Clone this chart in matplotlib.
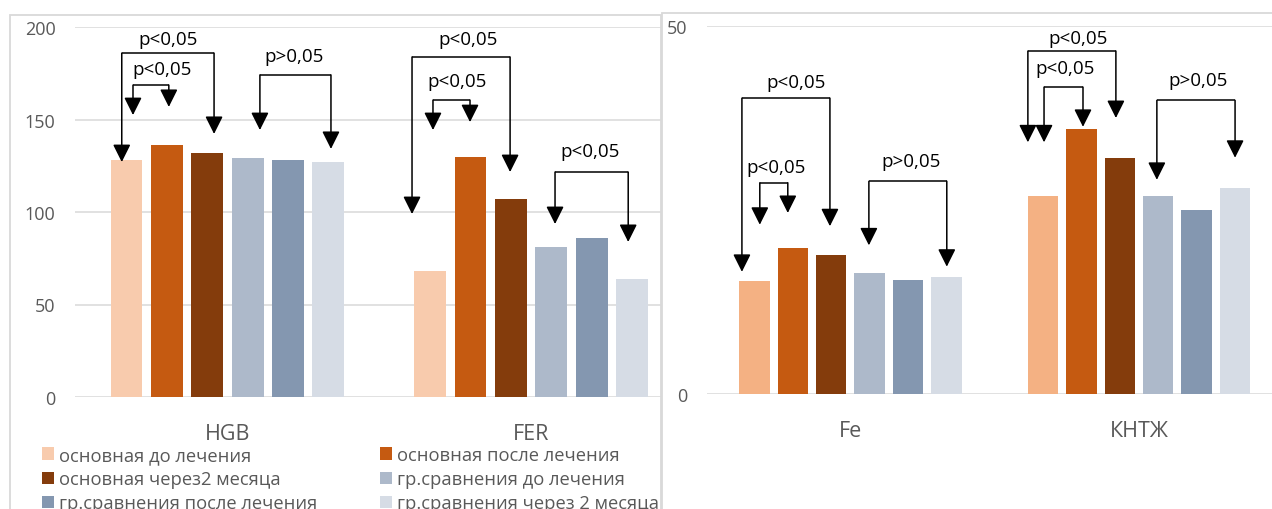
import numpy as np
import matplotlib
matplotlib.use("Agg")
import matplotlib.pyplot as plt
from matplotlib.patches import Rectangle

plt.rcParams['font.family'] = ['Open Sans', 'DejaVu Sans']

W, H = 1272, 510

series_names = ['основная до лечения', 'основная после лечения', 'основная через2 месяца',
                'гр.сравнения до лечения', 'гр.сравнения после лечения', 'гр.сравнения через 2 месяца']

cats_left = ['HGB', 'FER']
left_osn_do = [128, 68]
left_osn_posle = [136, 130]
left_osn_2m = [132, 107]
left_sr_do = [129, 81]
left_sr_posle = [128, 86]
left_sr_2m = [127, 64]

cats_right = ['Fe', 'КНТЖ']
right_osn_do = [15.3, 26.9]
right_osn_posle = [19.9, 36.0]
right_osn_2m = [18.9, 32.0]
right_sr_do = [16.5, 26.9]
right_sr_posle = [15.5, 25.0]
right_sr_2m = [15.9, 28.0]

colors_left = ['#F8CBAD', '#C55A11', '#843C0C', '#ADB9CA', '#8497B0', '#D6DCE5']
colors_right = ['#F4B183', '#C55A11', '#843C0C', '#ADB9CA', '#8497B0', '#D6DCE5']

# significance brackets: left leg x, right leg x, top y, left tip y, right tip y, text x, text y, label
brackets_left = [
    (-0.348, -0.044, 185.9, 127.0, 142.2, -0.195, 193.5, 'p<0,05'),
    (-0.311, -0.193, 168.6, 152.4, 156.8, -0.216, 177.3, 'p<0,05'),
    (0.107, 0.341, 174.1, 144.3, 134.1, 0.219, 184.3, 'p>0,05'),
    (0.608, 0.931, 183.8, 98.9, 121.6, 0.792, 193.5, 'p<0,05'),
    (0.677, 0.799, 160.5, 144.3, 148.6, 0.756, 170.8, 'p<0,05'),
    (1.079, 1.320, 121.6, 93.5, 83.8, 1.194, 133.0, 'p<0,05'),
]
brackets_right = [
    (-0.376, -0.071, 40.2, 16.6, 22.8, -0.189, 42.4, 'p<0,05'),
    (-0.314, -0.217, 28.7, 23.0, 24.6, -0.258, 30.8, 'p<0,05'),
    (0.064, 0.334, 28.9, 20.2, 17.3, 0.210, 31.7, 'p>0,05'),
    (0.615, 0.920, 46.6, 34.2, 37.5, 0.789, 48.4, 'p<0,05'),
    (0.671, 0.806, 41.7, 34.2, 36.3, 0.744, 44.3, 'p<0,05'),
    (1.062, 1.333, 39.9, 29.1, 32.1, 1.205, 42.7, 'p>0,05'),
]

GRAY = '#595959'
GRID = '#D9D9D9'
step, width = 0.133, 0.105


def draw_panel(ax, cats, values, colors, ymax, yticks, brackets):
    x = np.arange(len(cats))
    bars = []
    for i, (vals, c) in enumerate(zip(values, colors)):
        b = ax.bar(x + (i - 2.5) * step, vals, width, color=c, label=series_names[i], zorder=2)
        bars.append(b)
    ax.set_ylim(0, ymax)
    ax.set_yticks(yticks)
    ax.set_xticks(x)
    ax.set_xticklabels(cats, fontsize=15.5, color=GRAY)
    ax.tick_params(axis='y', length=0, pad=14, labelsize=13, labelcolor=GRAY)
    ax.tick_params(axis='x', length=0, pad=19)
    ax.grid(axis='y', color=GRID, lw=1.1, zorder=0)
    for s in ax.spines.values():
        s.set_visible(False)
    for xl, xr, top, tl, tr, tx, ty, lab in brackets:
        ax.plot([xl, xr], [top, top], color='black', lw=1.1, zorder=3, solid_capstyle='butt')
        for xx, tip in ((xl, tl), (xr, tr)):
            ax.annotate('', xy=(xx, tip), xytext=(xx, top),
                        arrowprops=dict(arrowstyle='-|>,head_length=0.9,head_width=0.45',
                                        mutation_scale=12, lw=1.1, color='black',
                                        shrinkA=0, shrinkB=0), zorder=3)
        ax.text(tx, ty, lab, ha='center', va='center', fontsize=13.5, color='black', zorder=4)
    return bars


fig = plt.figure(figsize=(W / 100, H / 100), dpi=100)

# chart frames
fig.add_artist(Rectangle((10 / W, -0.1), 651 / W, (H - 16) / H + 0.1, transform=fig.transFigure,
                         fill=False, edgecolor=GRID, lw=1.3))
fig.add_artist(Rectangle((662 / W, -0.1), 0.5, (H - 14) / H + 0.1, transform=fig.transFigure,
                         fill=False, edgecolor=GRID, lw=1.3))

ax1 = fig.add_axes([75 / W, 112 / H, 586 / W, 370 / H])
bars = draw_panel(ax1, cats_left,
                  [left_osn_do, left_osn_posle, left_osn_2m, left_sr_do, left_sr_posle, left_sr_2m],
                  colors_left, 200, [0, 50, 100, 150, 200], brackets_left)
ax1.set_xlim(-0.502, 1.428)

ax2 = fig.add_axes([707 / W, 115 / H, 565 / W, 368 / H])
draw_panel(ax2, cats_right,
           [right_osn_do, right_osn_posle, right_osn_2m, right_sr_do, right_sr_posle, right_sr_2m],
           colors_right, 50, [0, 50], brackets_right)
ax2.set_xlim(-0.497, 1.461)

order = [0, 2, 4, 1, 3, 5]
fig.legend([bars[i] for i in order], [series_names[i] for i in order],
           loc='upper left', bbox_to_anchor=(42 / W, 1 - 447 / H), ncol=2, frameon=False,
           fontsize=13.2, labelcolor=GRAY, handlelength=0.65, handleheight=0.65,
           handletextpad=0.3, columnspacing=3.4, labelspacing=0.34, borderpad=0, borderaxespad=0)

fig.savefig('out.png', dpi=100)
